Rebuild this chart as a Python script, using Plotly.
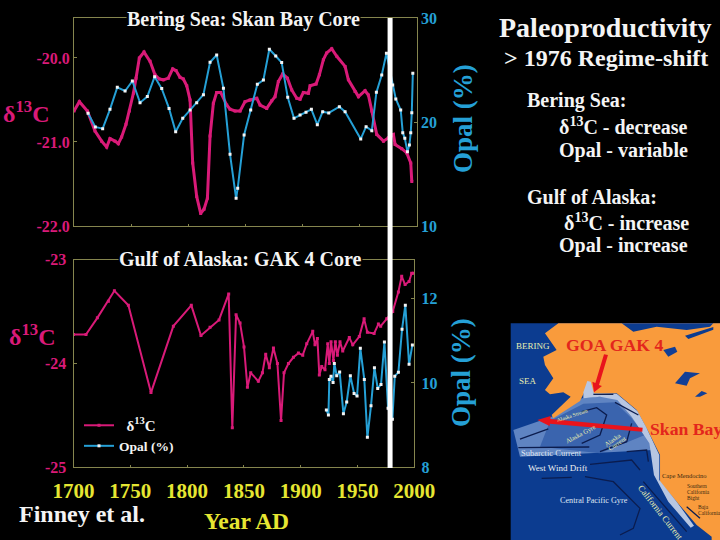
import plotly.graph_objects as go

# ---------- data ----------
bering_c_year = [1700,1704.7,1711.7,1718.4,1724.2,1728.6,1731.5,1735.9,1738.8,1741.7,1745.5,1748.5,1752,1754.3,1757.2,1761.3,1766.6,1770.9,1774.7,1778.2,1782.6,1786.4,1789.3,1792.8,1795.7,1798.7,1801.6,1803.9,1807.4,1810.9,1813.8,1816.8,1819.1,1822,1824.9,1828.4,1833.7,1836.6,1841,1845.4,1849.7,1854.1,1860,1862.9,1868.7,1873.1,1876,1878.9,1882.7,1886.8,1890.6,1895,1897.9,1900.8,1905.2,1906.7,1911.9,1914.8,1918.3,1921.2,1925.6,1930,1937.3,1940.2,1946,1949,1954.8,1957.7,1960.7,1965,1970.9,1975.2,1979.6,1981.1,1986.9,1991.3,1994.8,1995.7]
bering_c_val = [-20.63,-20.52,-20.63,-20.87,-20.99,-21.06,-20.96,-20.99,-21.02,-20.94,-20.79,-20.63,-20.42,-20.24,-20.0,-19.93,-20.04,-20.2,-20.25,-20.26,-20.24,-20.13,-20.15,-20.23,-20.25,-20.33,-20.5,-21.25,-21.65,-21.85,-21.8,-21.67,-20.93,-20.54,-20.41,-20.41,-20.56,-20.61,-20.63,-20.63,-20.52,-20.5,-20.48,-20.56,-20.6,-20.51,-20.46,-20.28,-20.19,-20.24,-20.38,-20.48,-20.49,-20.41,-20.42,-20.33,-20.31,-20.2,-20.02,-19.94,-19.89,-19.98,-20.1,-20.26,-20.4,-20.46,-20.39,-20.44,-20.63,-20.91,-20.99,-20.95,-20.91,-21.03,-21.08,-21.13,-21.25,-21.47]
bering_o_year = [1712.3,1718.7,1725.1,1731.5,1737.9,1744.7,1751.1,1757.8,1764.2,1770.6,1776.8,1783.2,1789,1795.2,1801.6,1807.4,1813.3,1819.1,1824.9,1830.8,1836.6,1841.9,1843.3,1848.9,1854.7,1860.5,1865.8,1871,1876.6,1881.8,1887.1,1892.6,1897.9,1903.1,1907.8,1913,1917.7,1923,1932.3,1937.3,1951,1955.7,1960.7,1964.7,1969.4,1973.5,1979,1981.7,1986,1987.8,1989.6,1991.9,1993.6,1994.8,1995.7,1996.6]
bering_o_val = [20.83,19.52,19.36,21.22,23.33,22.98,23.94,21.86,22.44,24.36,23.21,21.31,19.07,20.35,21.15,21.86,22.63,25.74,26.44,23.24,16.89,12.66,13.62,18.75,21.15,23.62,24.04,26.99,26.35,25.71,22.37,20.35,20.67,20.93,21.22,19.74,20.99,20.87,21.47,20.99,18.37,19.55,19.17,22.85,24.52,26.6,23.56,22.21,21.15,18.97,18.43,17.15,17.79,18.97,20.9,24.68]
gak_c_year = [1700,1711,1721,1730.7,1736,1748.3,1768.2,1787.9,1803.7,1812.2,1820.2,1828.1,1836.6,1839.8,1843.1,1846.6,1850.1,1853.1,1856,1862.7,1866.3,1869.2,1872.4,1876,1879.5,1882.7,1885.3,1889.2,1893.6,1898,1901.8,1905.3,1910.6,1912.6,1914.7,1916.4,1918.5,1921.4,1923.8,1925.2,1926.7,1928.8,1930.5,1932.3,1934.6,1937,1942.8,1945.8,1951.6,1955.8,1958.7,1964.6,1968.4,1970.4,1975.7,1981,1986,1988.9,1991.9,1995.4,1997.7,1999.2]
gak_c_val = [-23.72,-23.72,-23.56,-23.4,-23.3,-23.44,-24.28,-23.64,-23.44,-23.73,-23.65,-23.58,-23.33,-24.62,-23.53,-23.61,-23.84,-24.23,-24.09,-24.17,-24.09,-23.91,-24.04,-23.85,-24.0,-24.55,-24.09,-24.0,-23.94,-23.9,-23.92,-23.81,-23.69,-23.82,-23.76,-24.11,-24.03,-24.06,-23.81,-24.0,-23.79,-23.97,-23.79,-23.92,-23.79,-23.88,-23.75,-23.82,-23.74,-23.57,-23.7,-23.71,-23.62,-23.64,-23.57,-23.5,-23.31,-23.16,-23.24,-23.21,-23.13,-23.13]
gak_o_year = [1922.6,1924.4,1925.2,1926.7,1928.5,1929.6,1931.7,1934.3,1937.6,1940.5,1943.7,1947,1949.6,1952.5,1956,1958.7,1961.9,1964.9,1967.8,1970.7,1973.7,1976.9,1980.7,1982.8,1986,1989.2,1992.1,1995.4,1998.3]
gak_o_val = [9.36,9.24,10.08,10.16,10.01,10.46,10.17,10.26,9.27,9.55,10.17,9.75,9.69,10.82,10.08,8.71,9.46,10.36,9.87,9.96,10.97,9.4,9.14,10.16,10.25,11.27,11.84,10.44,10.9]
year_ticks = [1700, 1750, 1800, 1850, 1900, 1950, 2000]
bering_c_ticks = [-20, -21, -22]
bering_c_labels = ["-20.0", "-21.0", "-22.0"]
bering_o_ticks = [10, 20, 30]
gak_c_ticks = [-23, -24, -25]
gak_c_labels = ["-23", "-24", "-25"]
gak_o_ticks = [8, 10, 12]
regime_year = 1976.7

# ---------- style ----------
W, H = 720, 540
SERIF = "Liberation Serif"
PINK, BLUE, AXIS = "#d91a78", "#25a0d6", "#85854e"
YELLOW, WHITE = "#e6e632", "#f4f4f4"
def X(p): return p / W
def Y(p): return 1 - p / H

fig = go.Figure()
def series(x, y, color, w, ya, name, show, mcolor, msize, xa):
    fig.add_trace(go.Scatter(x=x, y=y, mode="lines+markers", name=name, showlegend=show,
        xaxis=xa, yaxis=ya, line=dict(color=color, width=w),
        marker=dict(color=mcolor, size=msize, symbol="square", line=dict(width=0))))
series(bering_c_year, bering_c_val, PINK, 3, "y", "b13", False, PINK, 3, "x")
series(bering_o_year, bering_o_val, BLUE, 2, "y2", "bop", False, WHITE, 3, "x")
series(gak_c_year, gak_c_val, PINK, 2, "y3", '<span style="font-size:15px">\u00a0\u00a0δ<sup>13</sup>C</span>', True, PINK, 3, "x2")
series(gak_o_year, gak_o_val, BLUE, 2, "y4", "Opal (%)", True, WHITE, 3, "x2")

def tf(color, size): return dict(color=color, size=size, family=SERIF, weight=700)
common_y = dict(showgrid=False, zeroline=False, showline=True, linecolor=AXIS, linewidth=1,
                ticks="inside", ticklen=3, tickcolor=AXIS)
common_x = dict(range=[1700, 2000], tickvals=year_ticks, showgrid=False, zeroline=False, showline=True,
                linecolor=AXIS, linewidth=1, ticks="inside", ticklen=2, tickcolor=AXIS, mirror=True)
fig.update_layout(
    width=W, height=H, margin=dict(l=0, r=0, t=0, b=0, autoexpand=False), paper_bgcolor="black", plot_bgcolor="black",
    xaxis=dict(domain=[X(74), X(416.7)], anchor="y", showticklabels=False, **common_x),
    xaxis2=dict(domain=[X(73.5), X(414.3)], anchor="y3", tickfont=tf(YELLOW, 21), ticklabelstandoff=4, **common_x),
    yaxis=dict(domain=[Y(226), Y(18)], anchor="x", range=[-22, -19.524], tickvals=bering_c_ticks,
               ticktext=bering_c_labels, tickfont=tf(PINK, 16), **common_y),
    yaxis2=dict(domain=[Y(226), Y(18)], anchor="x", overlaying="y", side="right", range=[10, 30],
                tickvals=bering_o_ticks, tickfont=tf(BLUE, 16), **common_y),
    yaxis3=dict(domain=[Y(467.3), Y(259.7)], anchor="x2", range=[-25, -23], tickvals=gak_c_ticks, ticktext=gak_c_labels,
                tickfont=tf(PINK, 16), ticklabelstandoff=3, **common_y),
    yaxis4=dict(domain=[Y(467.3), Y(259.7)], anchor="x2", overlaying="y3", side="right", range=[8, 12.92],
                tickvals=gak_o_ticks, tickfont=tf(BLUE, 16), ticklabelstandoff=3, **common_y),
    legend=dict(x=X(79), y=Y(410), xanchor="left", yanchor="top", bgcolor="rgba(0,0,0,0)",
                font=tf(WHITE, 13.5), itemwidth=30, tracegroupgap=0),
    showlegend=True,
)

# ---------- text ----------
def text(s, x, y, size, color=WHITE, anchor="left", angle=0, bg=None, bold=True, family=SERIF):
    fig.add_annotation(text=f"<b>{s}</b>" if bold else s, xref="paper", yref="paper", x=X(x), y=Y(y),
        xanchor=anchor, yanchor="middle", showarrow=False, textangle=angle, bgcolor=bg,
        font=dict(family=family, size=size, color=color), borderpad=0)

text("Bering Sea: Skan Bay Core", 243, 19, 20, anchor="center", bg="black")
text("Gulf of Alaska: GAK 4 Core", 241, 259, 20, anchor="center", bg="black")
text("δ<sup>13</sup>C", 2, 112, 24, PINK)
text("δ<sup>13</sup>C", 8, 335, 24, PINK)
text("Opal (%)", 463, 119, 27, BLUE, "center", -90)
text("Opal (%)", 461, 372, 27, BLUE, "center", -90)
text("Finney et al.", 18, 514, 24)
text("Year AD", 246, 521, 23.5, YELLOW, "center")
text("Paleoproductivity", 605, 28, 28, anchor="center")
text("&gt; 1976 Regime-shift", 606, 58, 24, anchor="center")
for s, x, y in [("Bering Sea:", 526, 101), ("δ<sup>13</sup>C - decrease", 558, 126), ("Opal - variable", 558, 150),
                ("Gulf of Alaska:", 526, 197), ("δ<sup>13</sup>C - increase", 563, 222), ("Opal - increase", 558, 246)]:
    text(s, x, y, 20)

# ---------- regime line ----------
fig.add_shape(type="line", xref="x", yref="paper", x0=regime_year, x1=regime_year, y0=Y(468), y1=Y(18),
              line=dict(color="white", width=5), layer="above")

# ---------- map (decorative inset, outline traced in zoom units) ----------
def mz(zx, zy): return (X(500 + zx / 3), Y(315 + zy / 3))
def poly(pts, fill):
    path = "M " + " L ".join("%.4f,%.4f" % mz(*p) for p in pts) + " Z"
    fig.add_shape(type="path", xref="paper", yref="paper", path=path, fillcolor=fill, line=dict(width=0), layer="above")
def curve(pts, color="#0b1c4e", w=1.3):
    path = "M " + " L ".join("%.4f,%.4f" % mz(*p) for p in pts)
    fig.add_shape(type="path", xref="paper", yref="paper", path=path, line=dict(color=color, width=w), layer="above")

OCEAN, LAND = "#0c3c90", "#f99b3c"
poly([(32, 25), (660, 25), (660, 675), (32, 675)], OCEAN)
poly([(40, 345), (155, 305), (245, 250), (350, 240), (435, 340), (460, 405), (60, 425)], "#5f84c2")
poly([(150, 318), (250, 266), (345, 262), (395, 310), (435, 360), (300, 415), (120, 395)], "#3a64ae")
poly([(175, 25), (135, 55), (170, 105), (130, 125), (135, 150), (160, 190), (135, 225), (150, 238), (190, 232),
      (212, 245), (155, 300), (160, 310), (240, 258), (268, 200), (282, 238), (350, 235), (410, 285), (440, 340),
      (480, 420), (480, 500), (530, 560), (590, 630), (635, 665), (635, 675), (660, 675), (660, 25)], LAND)
poly([(262, 198), (272, 200), (282, 235), (350, 236), (412, 288), (438, 335), (478, 420), (478, 495), (530, 560),
      (582, 632), (572, 638), (505, 560), (462, 480), (448, 385), (395, 305), (352, 255), (300, 245), (250, 250), (250, 232)], "#b7c6e2")
poly([(365, 25), (640, 25), (630, 35), (560, 45), (470, 35), (400, 50)], OCEAN)
poly([(555, 62), (640, 36), (640, 44), (565, 72)], OCEAN)
poly([(525, 205), (555, 170), (600, 175), (570, 190), (560, 212)], "#123f96")
poly([(585, 245), (605, 228), (622, 235), (600, 245)], "#123f96")
poly([(490, 105), (525, 95), (532, 110), (505, 125)], "#123f96")
for c in [[(280, 238), (340, 238)], [(345, 262), (415, 300)], [(245, 290), (290, 278), (320, 300), (300, 360), (245, 385)],
          [(300, 410), (380, 380), (395, 325)], [(60, 372), (145, 342)], [(55, 398), (268, 396)],
          [(270, 448), (395, 435), (420, 465)], [(125, 490), (215, 487)], [(255, 485), (340, 500), (420, 580), (400, 640), (360, 660)],
          [(380, 410), (440, 405), (445, 440)], [(430, 500), (560, 650)], [(560, 575), (600, 610)]]:
    curve(c)
poly([(312, 118), (324, 120), (297, 210), (306, 213), (282, 232), (277, 200), (286, 204)], "#e8141c")
poly([(428, 338), (427, 350), (150, 326), (149, 333), (112, 315), (152, 303), (151, 312)], "#e8141c")

def mtext(s, zx, zy, size, color, anchor="left", angle=0, bold=False, family=SERIF):
    text(s, 500 + zx / 3, 315 + zy / 3, size, color, anchor, angle, bold=bold, family=family)
mtext("GOA GAK 4", 195, 90, 17.7, "#e3261c", bold=True)
mtext("Skan Bay", 447, 343, 17.7, "#e3261c", bold=True)
mtext("BERING", 44, 92, 9, "#e9efb0")
mtext("SEA", 53, 198, 9, "#e9efb0")
mtext("Subarctic Current", 60, 413, 8.5, "#dfe6f2")
mtext("West Wind Drift", 82, 459, 9, "#f0f0f0")
mtext("Central Pacific Gyre", 176, 555, 8.2, "#dfe6f2")
mtext("Alaska Gyre", 190, 355, 6.5, "#e9efb0", angle=-28)
mtext("Alaska", 305, 372, 6.5, "#e9efb0", angle=-35)
mtext("Current", 315, 385, 6.5, "#e9efb0", angle=-35)
mtext("Alaska Stream", 165, 300, 5.5, "#e9efb0", angle=-18)
mtext("California Current", 480, 592, 9, "#e9efb0", "center", 52)
mtext("Cape Mendocino", 484, 482, 6.5, "#3a2a10")
mtext("Southern", 557, 512, 5.5, "#3a2a10")
mtext("California", 557, 531, 5.5, "#3a2a10")
mtext("Bight", 557, 549, 5.5, "#3a2a10")
mtext("Baja", 592, 576, 5.5, "#3a2a10")
mtext("California", 592, 595, 5.5, "#3a2a10")

fig.write_html("out.html", config={"displayModeBar": False}, post_script="document.body.style.margin='0';")
